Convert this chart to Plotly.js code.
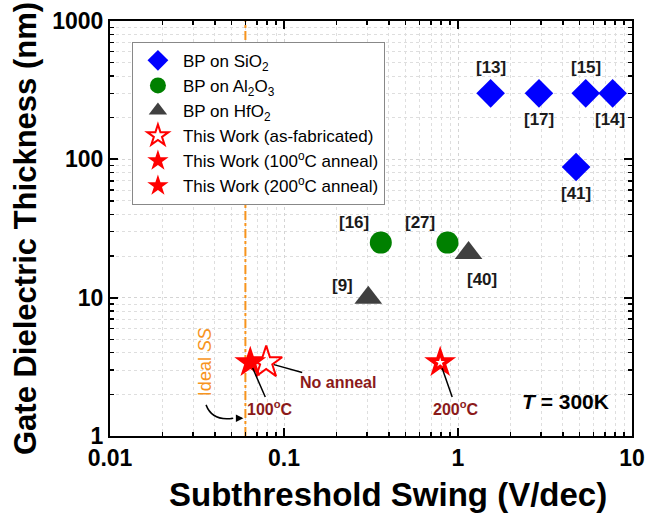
<!DOCTYPE html>
<html>
<head>
<meta charset="utf-8">
<script src="https://cdn.plot.ly/plotly-3.0.1.min.js"></script>
<style>html,body{margin:0;padding:0;background:#fff;}#chart{width:646px;height:516px;}</style>
</head>
<body>
<div id="chart"></div>
<script>
// ---- data ----
const sio2SS = [1.54, 2.92, 5.42, 7.74, 4.77];
const sio2T = [300, 300, 300, 300, 88];
const sio2Refs = ['[13]', '[17]', '[15]', '[14]', '[41]'];

const al2o3SS = [0.36, 0.87];
const al2o3T = [25, 25];
const al2o3Refs = ['[16]', '[27]'];

const hfo2SS = [0.305, 1.15];
const hfo2T = [10, 21];
const hfo2Refs = ['[9]', '[40]'];

const asFabSS = [0.079];
const asFabT = [3.4];
const anneal100SS = [0.064];
const anneal100T = [3.4];
const anneal200SS = [0.79];
const anneal200T = [3.4];

const idealSS = 0.06;
const yRange = [1, 1000];

const xTickVals = [0.01, 0.1, 1, 10];
const xTickText = ['0.01', '0.1', '1', '10'];
const yTickVals = [1, 10, 100, 1000];
const yTickText = ['1', '10', '100', '1000'];

// ---- build ----
const FONT = 'Liberation Sans, Arial, sans-serif';
const darkRed = '#8B1A1A';

function minorVals(lo, hi) {
  const v = [];
  for (let d = lo; d < hi; d++) for (let k = 2; k <= 9; k++) v.push(k * Math.pow(10, d));
  return v;
}

const traces = [
  {x: [idealSS, idealSS], y: yRange, mode: 'lines', showlegend: false, hoverinfo: 'skip',
   line: {color: '#F7941D', width: 2, dash: 'dashdot'}},
  {x: sio2SS, y: sio2T, mode: 'markers', name: 'BP on SiO<sub>2</sub>',
   marker: {symbol: 'diamond', size: 22, color: '#0000FF'}},
  {x: al2o3SS, y: al2o3T, mode: 'markers', name: 'BP on Al<sub>2</sub>O<sub>3</sub>',
   marker: {symbol: 'circle', size: 22, color: '#008000'}},
  {x: hfo2SS, y: hfo2T, mode: 'markers', name: 'BP on HfO<sub>2</sub>',
   marker: {symbol: 'triangle-up', size: 24, color: '#404040'}},
  {x: asFabSS, y: asFabT, mode: 'markers', name: 'This Work (as-fabricated)',
   marker: {symbol: 'star-open', size: 24, color: '#FF0000', line: {width: 2, color: '#FF0000'}}},
  {x: anneal100SS, y: anneal100T, mode: 'markers', name: 'This Work (100<sup>o</sup>C anneal)',
   marker: {symbol: 'star', size: 24, color: '#FF0000'}},
  {x: anneal200SS, y: anneal200T, mode: 'markers', name: 'This Work (200<sup>o</sup>C anneal)',
   marker: {symbol: 'star', size: 24, color: '#FF0000'}},
  {x: anneal200SS, y: anneal200T, mode: 'markers', showlegend: false, hoverinfo: 'skip',
   marker: {symbol: 'star', size: 7, color: '#FFFFFF'}}
];

const annotations = [];
const refShift = {
  '[13]': [0, 26], '[17]': [0, -26], '[15]': [0, 26], '[14]': [-3, -26], '[41]': [0, -26],
  '[16]': [-27, 20], '[27]': [-27, 20], '[40]': [13, -26], '[9]': [-26, 12]
};
function addRefs(xs, ys, refs) {
  xs.forEach((x, i) => {
    const s = refShift[refs[i]];
    annotations.push({x: Math.log10(x), y: Math.log10(ys[i]), text: refs[i], showarrow: false,
      xshift: s[0], yshift: s[1], font: {family: FONT, size: 17, color: '#1a1a1a', weight: 'bold'}});
  });
}
addRefs(sio2SS, sio2T, sio2Refs);
addRefs(al2o3SS, al2o3T, al2o3Refs);
addRefs(hfo2SS, hfo2T, hfo2Refs);

annotations.push(
  {x: Math.log10(anneal100SS[0]), y: Math.log10(anneal100T[0]), text: '100<sup>o</sup>C',
   showarrow: true, arrowhead: 0, arrowwidth: 1.5, arrowcolor: '#000', ax: 20, ay: 46, standoff: 6,
   font: {family: FONT, size: 16, color: darkRed, weight: 'bold'}},
  {x: Math.log10(asFabSS[0]), y: Math.log10(asFabT[0]), text: 'No anneal',
   showarrow: true, arrowhead: 0, arrowwidth: 1.5, arrowcolor: '#000', ax: 72, ay: 20, standoff: 8,
   font: {family: FONT, size: 16, color: darkRed, weight: 'bold'}},
  {x: Math.log10(anneal200SS[0]), y: Math.log10(anneal200T[0]), text: '200<sup>o</sup>C',
   showarrow: true, arrowhead: 0, arrowwidth: 1.5, arrowcolor: '#000', ax: 16, ay: 46, standoff: 6,
   font: {family: FONT, size: 16, color: darkRed, weight: 'bold'}},
  {xref: 'paper', yref: 'paper', x: 0.182, y: 0.178, xanchor: 'center', yanchor: 'middle',
   text: 'Ideal <i>SS</i>', textangle: -90,
   showarrow: false, font: {family: FONT, size: 18, color: '#F7941D'}},
  {x: Math.log10(idealSS), yref: 'paper', y: 0.043, text: ' ', showarrow: true,
   arrowhead: 2, arrowsize: 1, arrowwidth: 1.5, arrowcolor: '#000', ax: -10, ay: 0, standoff: 2},
  {xref: 'paper', yref: 'paper', x: 0.872, y: 0.084, xanchor: 'center', yanchor: 'middle',
   text: '<i>T</i> = 300K', showarrow: false,
   font: {family: FONT, size: 21, color: '#000', weight: 'bold'}},
  {xref: 'paper', yref: 'paper', x: 0.533, y: -0.14, xanchor: 'center', yanchor: 'middle',
   text: 'Subthreshold Swing (V/dec)', showarrow: false,
   font: {family: FONT, size: 33, color: '#000', weight: 'bold'}}
);

const shapes = [
  {type: 'path', xref: 'paper', yref: 'paper',
   path: 'M 0.184 0.075 Q 0.196 0.035 0.236 0.043', line: {color: '#000', width: 1.5}}
];

const axisCommon = {
  type: 'log', showline: true, linecolor: '#000', linewidth: 2, mirror: 'ticks',
  ticks: 'inside', ticklen: 8, tickwidth: 2, tickcolor: '#000',
  showgrid: true, gridcolor: '#d4d4d4', griddash: '3px,3px', gridwidth: 1,
  zeroline: false, tickmode: 'array',
  tickfont: {family: FONT, size: 23, color: '#000', weight: 'bold'}
};

const layout = {
  width: 646, height: 516,
  margin: {l: 110, r: 14, t: 21, b: 80},
  paper_bgcolor: '#fff', plot_bgcolor: '#fff',
  showlegend: true,
  legend: {x: 0.042, y: 0.95, xanchor: 'left', yanchor: 'top', bgcolor: '#fff',
    bordercolor: '#888', borderwidth: 1, font: {family: FONT, size: 17, color: '#000'},
    tracegroupgap: 0, itemwidth: 40},
  xaxis: Object.assign({}, axisCommon, {
    range: [-2, 1], tickvals: xTickVals, ticktext: xTickText,
    minor: {tickmode: 'array', tickvals: minorVals(-2, 1), ticks: 'inside', ticklen: 4,
      tickwidth: 1.5, tickcolor: '#000', showgrid: true, gridcolor: '#dedede', griddash: '3px,3px'}
  }),
  yaxis: Object.assign({}, axisCommon, {
    range: [0, 3], tickvals: yTickVals, ticktext: yTickText,
    minor: {tickmode: 'array', tickvals: minorVals(0, 3), ticks: 'inside', ticklen: 4,
      tickwidth: 1.5, tickcolor: '#000', showgrid: true, gridcolor: '#dedede', griddash: '3px,3px'},
    title: {text: 'Gate Dielectric Thickness (nm)', standoff: 6,
      font: {family: FONT, size: 31, color: '#000', weight: 'bold'}}
  }),
  annotations: annotations,
  shapes: shapes
};

Plotly.newPlot('chart', traces, layout, {displayModeBar: false, staticPlot: true});
</script>
</body>
</html>
